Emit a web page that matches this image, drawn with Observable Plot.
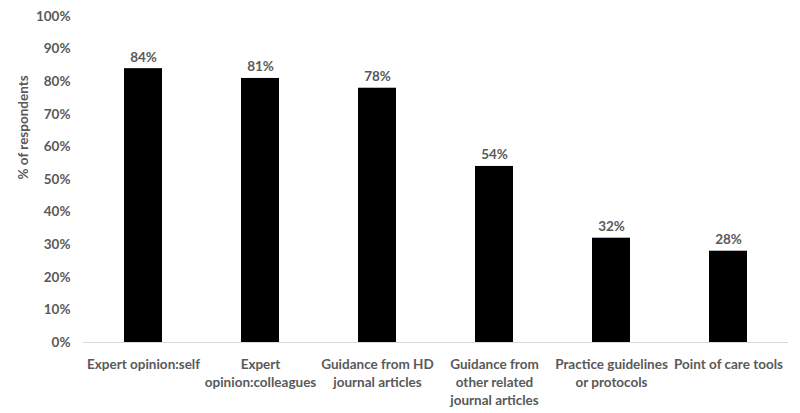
<!DOCTYPE html>
<html>
<head>
<meta charset="utf-8">
<script src="https://cdn.jsdelivr.net/npm/d3@7"></script>
<script src="https://cdn.jsdelivr.net/npm/@observablehq/plot@0.6"></script>
<style>
  html, body { margin: 0; padding: 0; background: #fff; }
  #chart svg { display: block; }
</style>
</head>
<body>
<div id="chart"></div>
<script>
const categories = [
  "Expert opinion:self",
  "Expert\nopinion:colleagues",
  "Guidance from HD\njournal articles",
  "Guidance from\nother related\njournal articles",
  "Practice guidelines\nor protocols",
  "Point of care tools"
];
const values = [0.84, 0.81, 0.78, 0.54, 0.32, 0.28];
const yTicks = [0, 0.1, 0.2, 0.3, 0.4, 0.5, 0.6, 0.7, 0.8, 0.9, 1.0];
const yTitle = "% of respondents";

const data = categories.map((c, i) => ({category: c, value: values[i]}));
const textColor = "#595959";
const fmt = d3.format(".0%");

const chart = Plot.plot({
  width: 800,
  height: 413,
  marginLeft: 83,
  marginRight: 12,
  marginTop: 16,
  marginBottom: 71,
  style: {fontFamily: "Lato, 'Open Sans', sans-serif", fontSize: "13.5px", fontWeight: "bold", color: textColor, background: "#fff"},
  x: {domain: categories, paddingInner: 0.677, paddingOuter: 0.3385},
  y: {domain: [0, 1]},
  marks: [
    Plot.axisY({ticks: yTicks, tickFormat: fmt, tickSize: 0, tickPadding: 13, label: null, fill: textColor, fontSize: 13.5}),
    Plot.axisX({tickSize: 0, tickPadding: 14, label: null, fill: textColor, fontSize: 13.5, lineHeight: 1.33}),
    Plot.barY(data, {x: "category", y: "value", fill: "#000"}),
    Plot.ruleY([0], {stroke: "#d9d9d9", strokeWidth: 1}),
    Plot.text(data, {x: "category", y: "value", text: d => fmt(d.value), lineAnchor: "bottom", dy: -7, fill: textColor, fontSize: 13.5, fontWeight: "bold"}),
    Plot.text([yTitle], {frameAnchor: "left", rotate: -90, dx: -60, fill: textColor, fontSize: 13.5, fontWeight: "bold"})
  ]
});
document.getElementById("chart").appendChild(chart);
</script>
</body>
</html>
